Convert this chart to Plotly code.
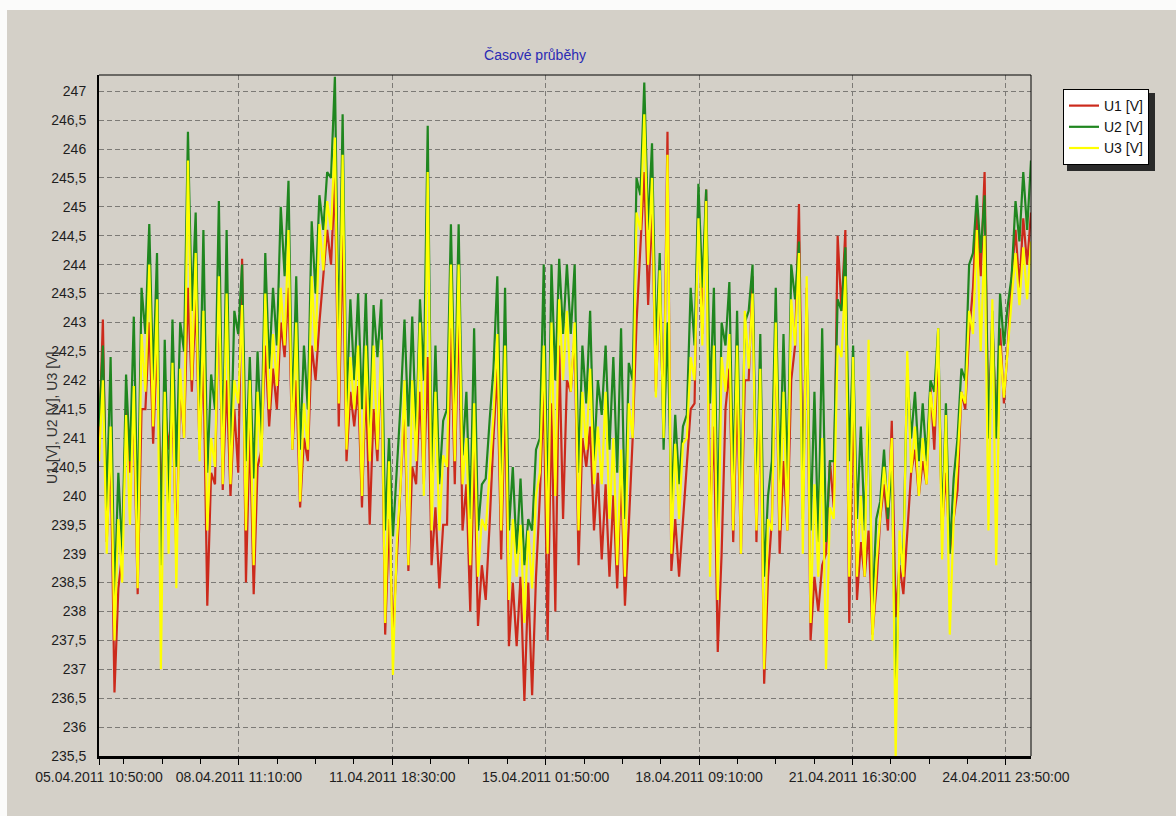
import pandas as pd
import plotly.graph_objects as go

# ---------------- data (per 4-hour bin, low and high value) ----------------
START = "2011-04-05 10:50"
END = "2011-04-25 12:50"
BIN_HOURS = 4

U1_LO = [240.8, 239.2, 236.6, 239.0, 240.4, 238.3, 241.5, 240.9, 239.9, 240.8,
         239.0, 241.0, 241.8, 240.8, 238.1, 240.2, 240.1, 240.0, 240.4, 238.5,
         238.3, 240.8, 241.2, 241.5, 242.4, 240.8, 239.8, 240.6, 242.0, 243.8,
         244.0, 241.2, 240.6, 241.2, 239.8, 239.5, 240.6, 237.6, 237.6, 240.2,
         238.7, 240.2, 240.2, 238.8, 238.4, 239.5, 240.2, 239.4, 238.0, 237.75,
         238.2, 241.0, 238.9, 237.4, 237.4, 236.45, 236.55, 240.0, 237.5, 238.0,
         239.6, 241.8, 238.8, 240.5, 239.4, 238.9, 238.6, 238.4, 238.1, 241.0,
         244.3, 243.3, 241.8, 241.2, 238.7, 238.6, 240.5, 241.6, 242.8, 239.6,
         237.3, 241.5, 239.2, 239.0, 242.0, 239.2, 236.75, 239.6, 239.0, 239.4,
         242.6, 240.0, 237.5, 238.0, 239.0, 239.8, 243.2, 237.8, 238.2, 238.6,
         237.6, 239.6, 239.4, 237.9, 238.3, 240.4, 240.0, 240.2, 240.8, 239.4,
         239.0, 240.1, 241.5, 243.6, 243.8, 241.0, 241.2, 241.6, 243.8, 243.6,
         244.0]
U1_HI = [243.05, 240.8, 238.4, 241.5, 241.4, 241.5, 243.0, 242.6, 241.6, 241.6,
         241.9, 243.6, 243.4, 242.4, 240.4, 243.6, 242.0, 241.5, 244.1, 241.2,
         240.5, 242.6, 242.2, 243.0, 243.6, 242.0, 241.0, 242.6, 243.0, 244.6,
         245.5, 244.5, 241.8, 241.9, 242.0, 241.5, 242.4, 239.6, 238.8, 241.5,
         240.5, 241.8, 242.4, 239.8, 239.5, 242.9, 243.3, 240.2, 240.8, 238.8,
         239.5, 242.2, 241.8, 238.5, 238.6, 238.5, 238.6, 241.9, 241.6, 242.6,
         242.0, 242.8, 241.0, 241.2, 240.4, 240.2, 240.0, 240.4, 239.5, 243.0,
         245.6, 245.0, 243.6, 246.3, 239.6, 239.6, 241.5, 245.2, 245.3, 241.2,
         239.0, 242.2, 241.8, 242.0, 243.8, 242.0, 238.6, 243.0, 240.6, 242.0,
         245.05, 243.6, 238.6, 238.8, 240.6, 244.5, 244.6, 241.8, 239.2, 239.4,
         238.4, 240.2, 241.3, 238.8, 239.4, 240.8, 240.6, 241.9, 242.6, 240.4,
         239.6, 241.8, 242.8, 245.0, 245.6, 243.0, 242.9, 242.6, 244.6, 244.8,
         244.9]

U2_LO = [241.2, 239.8, 238.2, 239.0, 240.6, 239.5, 242.8, 242.0, 238.8, 239.8,
         240.5, 242.5, 243.2, 241.2, 240.4, 241.5, 240.6, 240.5, 242.8, 240.6,
         240.3, 241.0, 242.2, 242.6, 243.8, 241.3, 240.8, 241.5, 243.5, 244.6,
         245.5, 242.5, 241.5, 242.0, 241.5, 241.0, 242.4, 239.4, 239.3, 241.6,
         241.2, 241.0, 242.0, 240.3, 240.2, 241.5, 241.5, 240.7, 239.6, 239.4,
         240.3, 242.2, 240.2, 239.4, 239.0, 238.8, 239.4, 241.0, 239.6, 242.0,
         242.8, 242.8, 240.4, 241.6, 240.6, 241.4, 240.8, 240.4, 239.6, 242.0,
         245.2, 244.6, 242.6, 240.8, 239.8, 240.2, 241.4, 242.6, 243.6, 241.6,
         239.4, 242.6, 240.2, 239.8, 243.2, 239.8, 238.6, 240.6, 240.2, 240.2,
         243.4, 239.6, 239.4, 239.2, 239.2, 240.6, 243.2, 240.6, 239.6, 239.4,
         238.0, 239.9, 239.6, 236.6, 239.0, 241.0, 240.6, 240.6, 241.8, 239.4,
         239.0, 241.0, 242.0, 244.2, 244.2, 241.0, 241.0, 242.6, 243.8, 244.4,
         244.6]
U2_HI = [242.6, 242.4, 240.4, 242.1, 243.1, 243.6, 244.7, 244.2, 242.7, 243.05,
         243.0, 246.3, 244.9, 244.6, 242.1, 245.1, 244.6, 243.2, 244.0, 242.4,
         242.5, 244.2, 243.6, 245.0, 245.45, 243.8, 242.6, 244.75, 245.2, 245.6,
         247.25, 246.6, 243.4, 243.5, 243.5, 243.3, 243.4, 241.0, 240.4, 243.05,
         243.1, 243.4, 246.4, 242.6, 241.3, 244.7, 244.7, 241.8, 242.9, 240.2,
         241.3, 243.8, 243.6, 240.5, 240.3, 239.6, 240.8, 244.0, 244.0, 244.1,
         244.0, 244.0, 242.6, 243.2, 242.0, 242.6, 242.4, 242.9, 242.3, 245.5,
         247.15, 246.1, 244.2, 243.0, 241.4, 241.2, 243.6, 245.4, 245.3, 243.6,
         243.0, 243.7, 243.2, 243.0, 244.0, 242.8, 240.0, 243.6, 242.8, 244.0,
         244.4, 243.5, 241.8, 242.9, 240.6, 243.4, 244.3, 242.6, 241.2, 241.8,
         239.6, 240.8, 240.6, 239.0, 242.2, 241.8, 241.6, 242.0, 242.9, 241.6,
         240.3, 242.2, 244.0, 245.2, 245.2, 243.2, 243.5, 243.3, 245.1, 245.6,
         245.8]

U3_LO = [240.6, 239.0, 237.5, 238.5, 239.5, 238.4, 241.8, 241.2, 237.0, 239.0,
         238.4, 241.0, 242.0, 240.6, 239.4, 240.5, 240.2, 240.2, 241.6, 239.4,
         238.8, 240.5, 241.5, 241.9, 242.6, 240.8, 239.9, 240.8, 242.5, 243.9,
         244.6, 241.6, 240.8, 241.5, 240.0, 240.6, 240.8, 237.8, 236.9, 240.2,
         238.8, 240.6, 240.0, 239.4, 239.4, 240.5, 240.6, 240.2, 238.8, 238.6,
         239.4, 241.4, 239.4, 238.2, 238.6, 237.8, 238.4, 240.4, 239.0, 240.0,
         242.0, 241.8, 239.4, 240.8, 240.2, 240.2, 239.6, 238.8, 238.6, 241.0,
         244.6, 244.0, 241.7, 241.0, 239.0, 239.6, 241.0, 242.0, 242.6, 238.6,
         238.2, 241.8, 239.4, 239.0, 242.2, 239.4, 237.0, 239.4, 239.4, 239.4,
         242.6, 239.0, 237.8, 238.6, 237.0, 239.6, 242.4, 238.6, 238.6, 238.6,
         237.5, 239.6, 239.8, 235.5, 238.6, 240.4, 240.0, 240.2, 241.2, 238.9,
         237.6, 240.6, 241.6, 242.8, 242.5, 239.4, 238.8, 241.7, 243.4, 243.3,
         243.4]
U3_HI = [242.0, 241.2, 239.6, 241.4, 241.9, 242.8, 244.0, 243.4, 241.8, 242.3,
         242.2, 245.8, 244.2, 243.2, 241.0, 243.8, 243.5, 242.0, 243.3, 242.0,
         241.8, 243.5, 242.8, 243.6, 244.6, 243.0, 241.6, 243.8, 244.7, 245.1,
         246.2, 245.9, 242.4, 242.6, 242.6, 242.6, 242.7, 240.6, 239.2, 242.0,
         242.0, 243.0, 245.6, 241.8, 240.7, 244.0, 244.0, 241.0, 241.6, 239.6,
         240.4, 242.8, 242.6, 239.6, 239.5, 239.4, 240.0, 242.6, 243.0, 243.4,
         243.2, 243.0, 241.8, 242.2, 241.2, 241.8, 241.0, 240.8, 241.6, 244.9,
         246.6, 245.5, 243.9, 245.9, 240.9, 240.9, 242.4, 244.8, 245.1, 242.6,
         242.4, 242.8, 242.6, 243.2, 243.5, 242.2, 239.6, 243.0, 241.8, 243.4,
         244.2, 243.8, 240.2, 241.0, 239.8, 242.6, 243.8, 242.4, 240.0, 242.7,
         238.8, 240.5, 241.0, 239.4, 242.5, 241.2, 241.0, 241.8, 242.9, 241.4,
         239.6, 241.8, 243.2, 244.6, 244.5, 243.4, 242.6, 242.6, 244.2, 244.3,
         244.4]

SERIES_NAMES = ["U1 [V]", "U2 [V]", "U3 [V]"]
SERIES_COLORS = ["#cc2a1c", "#1f861f", "#ffff00"]

X_TICKS = ["2011-04-05 10:50", "2011-04-08 11:10", "2011-04-11 18:30",
           "2011-04-15 01:50", "2011-04-18 09:10", "2011-04-21 16:30",
           "2011-04-24 23:50"]
TITLE = "Časové průběhy"
Y_TITLE = "U1 [V], U2 [V], U3 [V]"

# ---------------- build ----------------
n = len(U1_LO)
times = pd.date_range(START, periods=2 * n, freq=f"{BIN_HOURS // 2}h")


def interleave(lo, hi):
    out = []
    for a, b in zip(lo, hi):
        out.extend([a, b])
    return out


series = [interleave(U1_LO, U1_HI), interleave(U2_LO, U2_HI), interleave(U3_LO, U3_HI)]

fig = go.Figure()
for name, col, vals in zip(SERIES_NAMES, SERIES_COLORS, series):
    fig.add_trace(go.Scatter(x=times, y=vals, mode="lines", name=name,
                             line=dict(color=col, width=2.2)))

W, H = 1176, 816
L, R, T, B = 99, 145, 75, 60
pw, ph = W - L - R, H - T - B


def px_to_paper_x(px):
    return (px - L) / pw


def px_to_paper_y(py):
    return (H - B - py) / ph


GRID = "#7c7a76"
fig.update_layout(
    width=W, height=H,
    margin=dict(l=L, r=R, t=T, b=B, pad=0),
    paper_bgcolor="#d4d0c8", plot_bgcolor="#d4d0c8",
    separators=", ",
    font=dict(family="Arial, 'Liberation Sans', sans-serif", size=14, color="#1e1e1e"),
    title=dict(text=TITLE, x=535 / W, xanchor="center", xref="container",
               y=1 - 55 / H, yanchor="middle", yref="container",
               font=dict(size=14, color="#2a2ab4")),
    showlegend=True,
    legend=dict(x=px_to_paper_x(1063), y=px_to_paper_y(89), xanchor="left", yanchor="top",
                bgcolor="white", bordercolor="black", borderwidth=1,
                font=dict(size=14, color="#111111"), itemwidth=30,
                tracegroupgap=0),
    xaxis=dict(type="date", range=[START, END], tickvals=X_TICKS,
               tickformat="%d.%m.%Y %H:%M:%S",
               showgrid=True, gridcolor=GRID, griddash="5px,3px", gridwidth=1,
               showline=True, linecolor="black", linewidth=3,
               ticks="outside", ticklen=6, tickcolor="black",
               minor=dict(ticks="outside", ticklen=5, tickcolor="black",
                          tick0="2011-04-08 11:10", dtick=71400000, showgrid=False),
               tickfont=dict(size=14, color="#1e1e1e"), zeroline=False,
               fixedrange=True),
    yaxis=dict(range=[235.5, 247.28], tick0=235.5, dtick=0.5,
               showgrid=True, gridcolor=GRID, griddash="5px,3px", gridwidth=1,
               showline=True, linecolor="black", linewidth=2,
               ticks="", ticklabelstandoff=8,
               tickfont=dict(size=14, color="#1e1e1e"), zeroline=False),
    shapes=[
        dict(type="line", xref="paper", yref="paper", x0=0, x1=1, y0=1, y1=1,
             line=dict(color="black", width=1)),
        dict(type="line", xref="paper", yref="paper", x0=1, x1=1, y0=0, y1=1,
             line=dict(color="black", width=1)),
        dict(type="rect", xref="paper", yref="paper", layer="below",
             x0=px_to_paper_x(-5), x1=px_to_paper_x(W + 5),
             y0=px_to_paper_y(10), y1=px_to_paper_y(-5),
             fillcolor="#fbfbfa", line=dict(width=0)),
        dict(type="rect", xref="paper", yref="paper", layer="below",
             x0=px_to_paper_x(-5), x1=px_to_paper_x(7),
             y0=px_to_paper_y(H + 5), y1=px_to_paper_y(-5),
             fillcolor="#fbfbfa", line=dict(width=0)),
        # legend drop shadow (legend box is drawn over it)
        dict(type="rect", xref="paper", yref="paper", layer="above",
             x0=px_to_paper_x(1067), x1=px_to_paper_x(1155),
             y0=px_to_paper_y(171), y1=px_to_paper_y(93),
             fillcolor="#2a2a2a", line=dict(width=0)),
    ],
    annotations=[
        dict(text=Y_TITLE, textangle=-90, xref="paper", yref="paper",
             x=px_to_paper_x(52), y=px_to_paper_y(418), showarrow=False,
             font=dict(size=14, color="#333333"), xanchor="center", yanchor="middle"),
    ],
)

fig.write_html("out.html")
